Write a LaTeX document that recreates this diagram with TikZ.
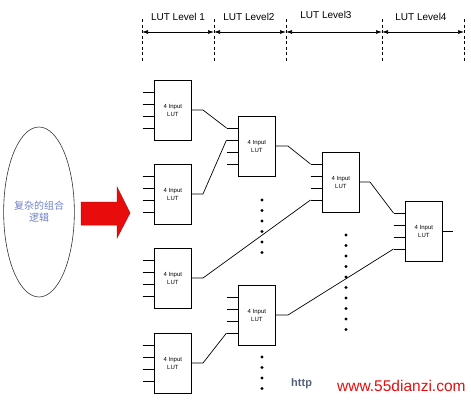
\documentclass[tikz,border=0pt]{standalone}
\usepackage{fontspec}
\setmainfont{Liberation Sans}
\newfontfamily\cjk{Noto Sans CJK SC}
\usetikzlibrary{calc,shapes.geometric,arrows.meta}
\definecolor{cjkblue}{HTML}{7282C8}
\definecolor{arrowred}{HTML}{E80C0C}
\definecolor{wmgray}{HTML}{56607A}
\tikzset{
  lut/.style={draw, line width=0.7pt, minimum width=37pt, minimum height=60pt,
    inner sep=0pt, align=center, font=\fontsize{6}{8.6}\selectfont, anchor=north west},
  wire/.style={line width=0.7pt},
  levelsep/.style={line width=0.9pt, dash pattern=on 3pt off 2.5pt},
  levelarrow/.style={line width=0.7pt, {Latex[length=6pt,width=4pt]}-{Latex[length=6pt,width=4pt]}},
  levellabel/.style={font=\fontsize{10}{12}\selectfont},
  dot/.style={fill=black},
}
\newcommand{\lutbox}[3]{%
  \node[lut] (#1) at (#2,#3) {4 Input\\LUT};
  \foreach \k/\d in {1/12,2/24,3/36,4/48} {
    \coordinate (#1-i\k) at ($(#1.north west)+(0,\d)$);
    \coordinate (#1-s\k) at ($(#1.north west)+(-11.5,\d)$);
    \draw[wire] (#1-s\k) -- (#1-i\k);
  }
  \coordinate (#1-o) at ($(#1.north west)+(37,30)$);
}
\begin{document}
\begin{tikzpicture}[x=1pt,y=-1pt]
\useasboundingbox (0,0) rectangle (471,400);
% level bar
\foreach \n/\x in {1/142,2/214,3/286,4/382,5/464} {
  \coordinate (lv\n) at (\x,32);
  \coordinate (lt\n) at (\x,19);
  \coordinate (lb\n) at (\x,62);
  \draw[levelsep] (lt\n) -- (lb\n);
}
\draw[levelarrow] (lv1) -- (lv2);
\draw[levelarrow] (lv2) -- (lv3);
\draw[levelarrow] (lv3) -- (lv4);
\draw[levelarrow] (lv4) -- (lv5);
\node[levellabel] (ll1) at (178,17) {LUT Level 1};
\node[levellabel] (ll2) at (249,17) {LUT Level2};
\node[levellabel] (ll3) at (326,15) {LUT Level3};
\node[levellabel] (ll4) at (421,17) {LUT Level4};
% ellipse
\node[draw, ellipse, line width=0.6pt, draw=black!80, minimum width=62pt, minimum height=170pt,
  inner sep=0pt, align=center, text=cjkblue, font=\cjk\fontsize{10}{12}\selectfont] (logic) at (39,212) {复杂的组合\\逻辑};
% red arrow
\fill[arrowred, draw=arrowred!80!black, line width=0.5pt] (81,202) -- (117,202) -- (117,187) -- (130,213)
  -- (117,238) -- (117,225) -- (81,225) -- cycle;
% LUT boxes
\lutbox{L1a}{154}{80}
\lutbox{L1b}{154}{164}
\lutbox{L1c}{154}{248}
\lutbox{L1d}{154}{333}
\lutbox{L2a}{238}{116}
\lutbox{L2b}{238}{285}
\lutbox{L3a}{322}{152}
\lutbox{L4}{405}{201}
% connections
\draw[wire] (L1a-o) -- ++(12,0) -- (L2a-s1);
\draw[wire] (L1b-o) -- ++(12,0) -- (L2a-s2);
\draw[wire] (L2a-o) -- ++(13,0) -- (L3a-s1);
\draw[wire] (L1c-o) -- ++(12,0) -- (L3a-s4);
\draw[wire] (L3a-o) -- ++(11,0) -- (L4-s1);
\draw[wire] (L2b-o) -- ++(13,0) -- (L4-s4);
\draw[wire] (L1d-o) -- ++(12,0) -- (L2b-s4);
\coordinate (out) at ($(L4-o)+(11,0)$);
\draw[wire] (L4-o) -- (out);
% dots
\foreach \y in {200,210.5,221,231.5,242,252.5} \fill[dot] (262,\y) circle (1.6pt);
\foreach \y in {235,245.5,256,266.5,277,287.5,298,308.5,319,329.5} \fill[dot] (346,\y) circle (1.6pt);
\foreach \y in {357,367.5,378,388.5} \fill[dot] (262,\y) circle (1.6pt);
% watermark
\node[anchor=west, text=wmgray, font=\bfseries\fontsize{11}{13}\selectfont, inner sep=0pt] (wm1) at (291,384) {http};
\node[anchor=west, text=arrowred, font=\fontsize{15.5}{18}\selectfont, inner sep=0pt] (wm2) at (337,386) {www.55dianzi.com};
\end{tikzpicture}
\end{document}
